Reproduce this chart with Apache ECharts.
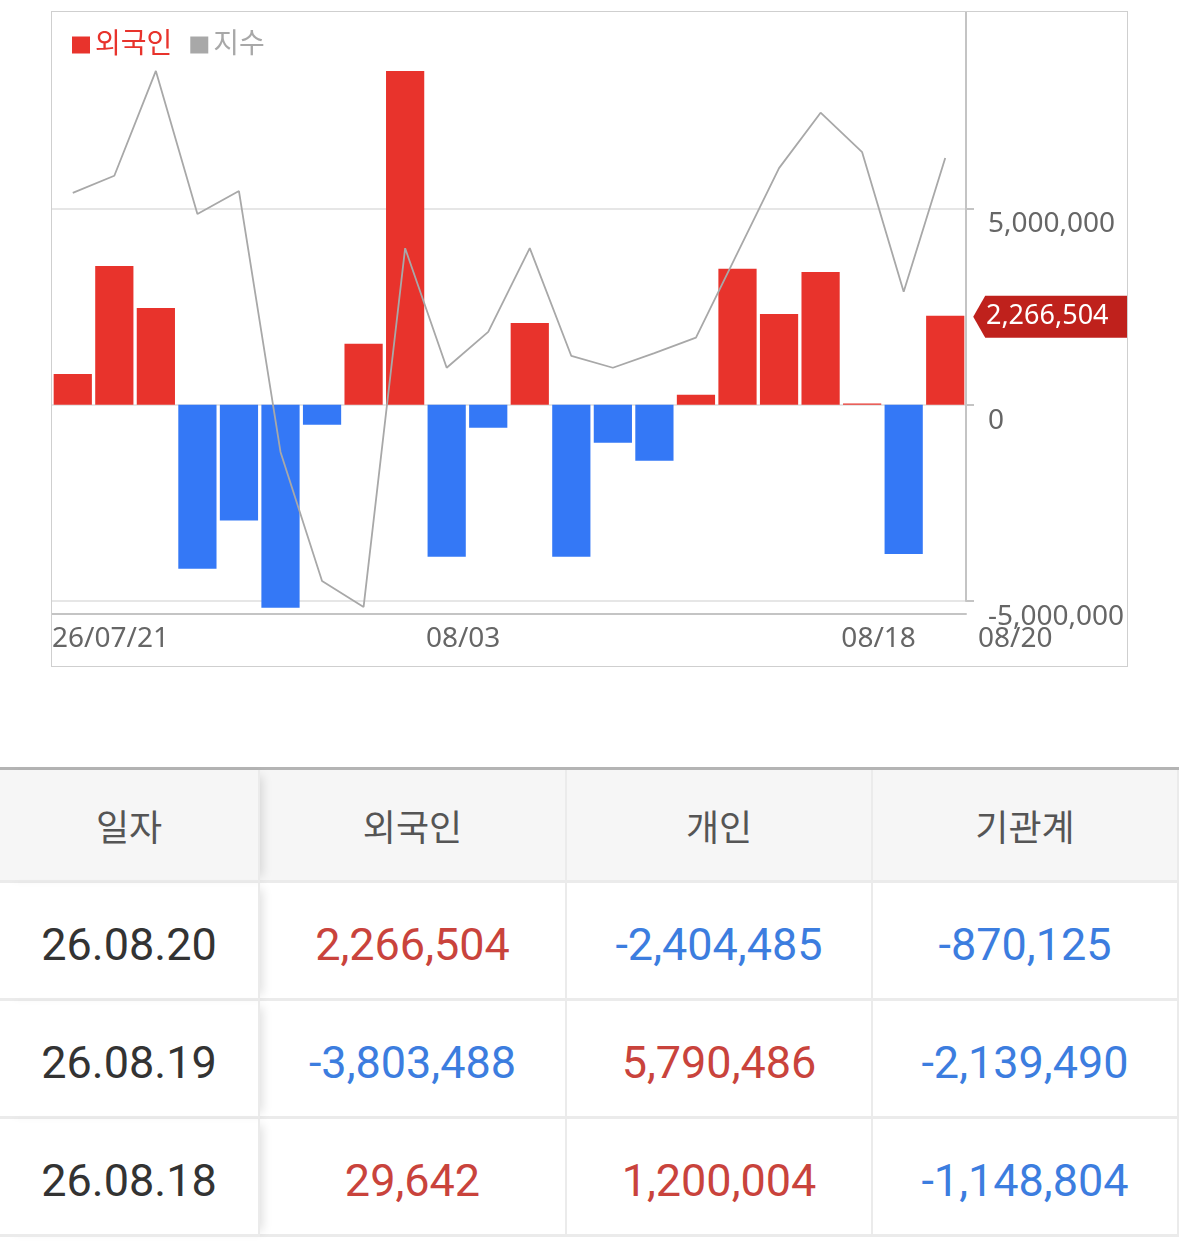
<!DOCTYPE html>
<html>
<head>
<meta charset="utf-8">
<title>외국인 순매매</title>
<script src="https://cdn.jsdelivr.net/npm/echarts@6/dist/echarts.min.js"></script>
<style>
  body { margin: 0; padding: 0; background: #fff; width: 1179px; height: 1243px; overflow: hidden; position: relative; }
  #main { position: absolute; left: 51px; top: 11px; width: 1077px; height: 656px; border: 1px solid #cfcfcf; box-sizing: border-box; }
  #tbl { position: absolute; left: 0; top: 767px; width: 1179px; border-collapse: separate; border-spacing: 0;
         border-top: 3px solid #b4b4b4; table-layout: fixed; font-family: Roboto, "Noto Sans CJK KR", sans-serif; }
  #tbl th, #tbl td { text-align: center; padding: 0; border-right: 2px solid #ebebeb; border-bottom: 3px solid #ebebeb; }
  #tbl th { height: 110px; background: #f6f6f6; color: #555; font-weight: normal; font-size: 36px; font-family: "Noto Sans CJK KR", sans-serif; }
  #tbl td { height: 107px; padding-top: 8px; font-size: 45px; color: #333; }
  #tbl .c0 { box-shadow: 8px 0 10px -6px rgba(0,0,0,0.14); position: relative; z-index: 1; }
  #tbl td.up { color: #c9433c; }
  #tbl td.down { color: #3c7ddf; }
</style>
</head>
<body>
<div id="main"></div>
<table id="tbl">
  <colgroup><col style="width:260px"><col style="width:307px"><col style="width:306px"><col style="width:306px"></colgroup>
  <thead><tr id="head"></tr></thead>
  <tbody id="rows"></tbody>
</table>
<script type="text/javascript">
  // chart data
  const dates = ['26/07/21', '07/22', '07/23', '07/24', '07/27', '07/28', '07/29', '07/30', '07/31',
    '08/03', '08/04', '08/05', '08/06', '08/07', '08/10', '08/11', '08/12', '08/13', '08/14',
    '08/18', '08/19', '08/20'];
  const foreignNet = [780000, 3530000, 2460000, -4180000, -2950000, -5170000, -510000, 1550000, 8500000,
    -3870000, -590000, 2080000, -3870000, -970000, -1430000, 250000, 3460000, 2310000, 3380000,
    29642, -3803488, 2266504];
  // index line, relative level (0-100 of the hidden axis)
  const indexLevel = [69.3, 72.2, 90.0, 65.7, 69.6, 25.3, 3.4, -1.0, 59.9, 39.6, 45.7, 59.9, 41.6,
    39.6, 42.1, 44.7, 59.1, 73.5, 82.9, 76.2, 52.5, 75.2];
  const dateTicks = [0, 9, 19];

  // table data
  const tableHeaders = ['일자', '외국인', '개인', '기관계'];
  const tableDates = ['26.08.20', '26.08.19', '26.08.18'];
  const tableForeign = [2266504, -3803488, 29642];
  const tablePersonal = [-2404485, 5790486, 1200004];
  const tableInstitution = [-870125, -2139490, -1148804];

  const red = '#e8332c', blue = '#3478f6', gray = '#a8a8a8';
  const chartFont = '"Noto Sans", "Noto Sans CJK KR", sans-serif';
  const fmt = v => Number(v).toLocaleString('en-US');
  const last = dates.length - 1;

  var myChart = echarts.init(document.getElementById('main'));
  option = {
    animation: false,
    textStyle: { fontFamily: chartFont },
    grid: { left: 0, right: 161, top: 0, bottom: 65, containLabel: false, outerBoundsMode: 'none' },
    legend: {
      left: 15, top: 14, padding: 5, icon: 'rect', itemWidth: 18, itemHeight: 17, itemGap: 18,
      textStyle: { fontSize: 28, fontFamily: chartFont },
      data: [
        { name: '외국인', itemStyle: { color: red }, textStyle: { color: red } },
        { name: '지수', itemStyle: { color: gray }, textStyle: { color: gray } }
      ]
    },
    xAxis: [{
      type: 'category', data: dates, boundaryGap: true, offset: 13,
      axisLine: { onZero: false, lineStyle: { color: '#c4c4c4', width: 2 } },
      axisTick: { show: false }, axisLabel: { show: false }
    }, {
      // date labels sit at the start of each day's band
      type: 'value', min: 0, max: dates.length, interval: 1, position: 'bottom', offset: 13,
      axisLine: { show: false, onZero: false }, axisTick: { show: false }, splitLine: { show: false },
      axisLabel: {
        align: 'left', margin: 11, fontSize: 28, color: '#666', hideOverlap: false,
        showMinLabel: true, showMaxLabel: true,
        formatter: v => v === dates.length ? '{end|' + dates[last] + '}' : (dateTicks.includes(v) ? dates[v] : ''),
        rich: { end: { padding: [0, 0, 0, 12], fontSize: 28, color: '#666', fontFamily: chartFont } }
      }
    }],
    yAxis: [{
      type: 'value', position: 'right', min: -5000000, max: 10000000, interval: 5000000,
      axisLine: { show: true, onZero: false, lineStyle: { color: '#c4c4c4', width: 2 } },
      axisTick: { show: true, length: 8, customValues: [-5000000, 0, 5000000], lineStyle: { color: '#c4c4c4', width: 2 } },
      splitLine: { lineStyle: { color: '#e6e6e6', width: 2 } },
      axisLabel: { margin: 22, fontSize: 28, color: '#666', align: 'left', verticalAlign: 'top', padding: [2, 0, 0, 0], showMaxLabel: false, formatter: fmt }
    }, {
      type: 'value', min: 0, max: 100, show: false
    }],
    series: [{
      name: '외국인', type: 'bar', data: foreignNet, barCategoryGap: '8%', clip: false,
      itemStyle: { color: p => p.value < 0 ? blue : red },
      markPoint: {
        symbol: 'path://M0,21L12,0L154,0L154,42L12,42Z', symbolSize: [154, 42], symbolKeepAspect: false,
        symbolOffset: [105, 1], itemStyle: { color: '#bf211c' },
        label: { show: true, position: 'inside', color: '#fff', fontSize: 27, fontFamily: chartFont, offset: [-3, 0], formatter: p => fmt(p.value) },
        data: [{ coord: [last, foreignNet[last]], value: foreignNet[last] }]
      }
    }, {
      name: '지수', type: 'line', yAxisIndex: 1, data: indexLevel, symbol: 'none', clip: false, z: 3,
      lineStyle: { color: gray, width: 1.8 }, itemStyle: { color: gray }
    }]
  };
  myChart.setOption(option);

  // table
  const head = document.getElementById('head');
  tableHeaders.forEach((h, i) => {
    const th = document.createElement('th');
    th.textContent = h;
    if (i === 0) th.className = 'c0';
    head.appendChild(th);
  });
  const rows = document.getElementById('rows');
  tableDates.forEach((d, r) => {
    const tr = document.createElement('tr');
    const cells = [d, tableForeign[r], tablePersonal[r], tableInstitution[r]];
    cells.forEach((c, i) => {
      const td = document.createElement('td');
      if (i === 0) { td.className = 'c0'; td.textContent = c; }
      else { td.className = c > 0 ? 'up' : (c < 0 ? 'down' : ''); td.textContent = fmt(c); }
      tr.appendChild(td);
    });
    rows.appendChild(tr);
  });
</script>
</body>
</html>
